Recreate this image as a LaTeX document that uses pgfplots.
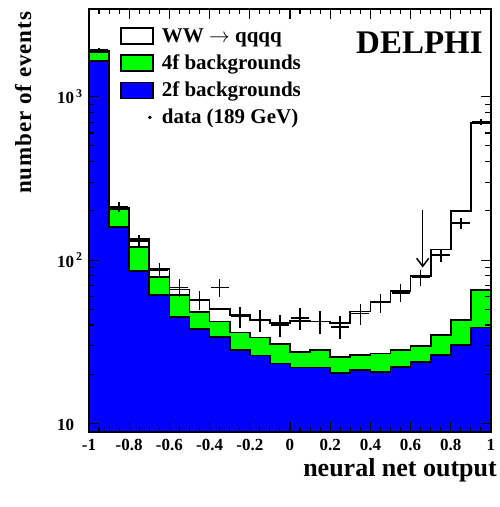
\documentclass[border=0pt]{standalone}
\usepackage{pgfplots}
\pgfplotsset{compat=1.18}
\usepackage{pgfplotstable}
\usepackage{fontspec}
\setmainfont{Liberation Serif}
\usetikzlibrary{arrows.meta}
\definecolor{hgreen}{RGB}{0,255,0}
\definecolor{hblue}{RGB}{0,0,255}

% left bin edge, 2f, 2f+4f, 2f+4f+WW
\pgfplotstableread{
x b g w
-1.0 1650 1890 1910
-0.9 160 205 209
-0.8 86 120 134
-0.7 61 79 88
-0.6 45 61 66
-0.5 38 48 57
-0.4 33.7 42 50
-0.3 28 36 46
-0.2 26 33.5 43
-0.1 23.3 30.5 41
0.0 22.0 27.4 42.5
0.1 22.0 28.1 42
0.2 20.4 25.4 41
0.3 21.2 26.2 48.5
0.4 20.7 26.8 55.5
0.5 22.2 28.1 64.5
0.6 23.8 29.7 80
0.7 26.2 34.7 116
0.8 30.2 43 200
0.9 38.7 65.5 690
1.0 38.7 65.5 690
}\hist

\pgfplotstableread{
x y ey
-0.95 1950 44
-0.85 212 14.6
-0.75 131 11.4
-0.65 87 9.3
-0.55 68 8.2
-0.45 57 7.5
-0.35 68 8.2
-0.25 45 6.7
-0.15 43 6.6
-0.05 40 6.3
0.05 44 6.6
0.15 42 6.5
0.25 39 6.2
0.35 47 6.9
0.45 55 7.4
0.55 63 7.9
0.65 78 8.8
0.75 107 10.3
0.85 168 13.0
0.95 700 26.5
}\data

\begin{document}
\begin{tikzpicture}
\useasboundingbox (-89pt,-75pt) rectangle (410pt,432pt);
\begin{axis}[
  at={(0pt,0pt)}, anchor=south west,
  width=402pt, height=423pt, scale only axis,
  xmin=-1, xmax=1, ymode=log, ymin=8.85, ymax=3450,
  axis on top,
  axis line style={line width=1.5pt},
  tick align=inside,
  tick style={line width=1.1pt, black},
  major tick length=10pt, minor tick length=5.5pt,
  xtick={-1,-0.8,-0.6,-0.4,-0.2,0,0.2,0.4,0.6,0.8,1},
  xticklabels={-1,-0.8,-0.6,-0.4,-0.2,0,0.2,0.4,0.6,0.8,1},
  minor x tick num=3,
  ytick={10,100,1000},
  yticklabels={10\phantom{\kern2pt\textsuperscript{2}}, 10\kern2pt\textsuperscript{2}, 10\kern2pt\textsuperscript{3}},
  ticklabel style={font=\fontsize{17}{20}\selectfont\bfseries},
  yticklabel style={xshift=-3pt},
  xticklabel style={yshift=-5pt, inner sep=2pt},
  ylabel={number of events},
  ylabel style={at={(axis description cs:-0.164,0.778)}, anchor=center, font=\fontsize{23}{26}\selectfont\bfseries\addfontfeature{LetterSpace=4}},
  xlabel={neural net output},
  xlabel style={at={(axis description cs:1.015,-0.062)}, anchor=north east, inner sep=0pt, font=\fontsize{26}{30}\selectfont\bfseries},
  legend style={at={(axis description cs:0.077,0.957)}, anchor=north west, draw=none, fill=none, inner sep=0pt, row sep=9pt,
    font=\fontsize{21}{23}\selectfont\bfseries, nodes={inner sep=1pt}},
  legend cell align=left,
]
\addplot[const plot, fill=white, draw=black, line width=1.7pt, forget plot] table[x=x, y=w] {\hist} \closedcycle;
\addplot[const plot, fill=hgreen, draw=black, line width=1.7pt, forget plot] table[x=x, y=g] {\hist} \closedcycle;
\addplot[const plot, fill=hblue, draw=black, line width=1.7pt, forget plot] table[x=x, y=b] {\hist} \closedcycle;

\addplot[draw=none, mark=none, forget plot,
  error bars/.cd, x dir=both, x fixed=0.045, y dir=both, y explicit, error mark=none,
  error bar style={draw=black, line width=1.6pt}]
  table[x=x, y=y, y error=ey] {\data};

\addplot[black, line width=1.4pt, forget plot, -{Straight Barb[length=8pt, width=12pt, line width=1.5pt]}] coordinates {(0.66,202) (0.66,90)};

\addlegendimage{legend image code/.code={\draw[fill=white, draw=black, line width=1.4pt] (0pt,-8pt) rectangle (32pt,8pt); \path[draw=none, fill=none] (0pt,0pt) -- (40pt,0pt);}}
\addlegendentry{WW $\rightarrow$ qqqq}
\addlegendimage{legend image code/.code={\draw[fill=hgreen, draw=black, line width=1.4pt] (0pt,-8pt) rectangle (32pt,8pt); \path[draw=none, fill=none] (0pt,0pt) -- (40pt,0pt);}}
\addlegendentry{4f backgrounds}
\addlegendimage{legend image code/.code={\draw[fill=hblue, draw=black, line width=1.4pt] (0pt,-8pt) rectangle (32pt,8pt); \path[draw=none, fill=none] (0pt,0pt) -- (40pt,0pt);}}
\addlegendentry{2f backgrounds}
\addlegendimage{legend image code/.code={\path[draw=none, fill=none] (0pt,-8pt) rectangle (40pt,8pt); \fill[black] (29pt,0pt) circle (1.6pt);}}
\addlegendentry{data (189 GeV)}

\node[anchor=north east, inner sep=0pt, font=\fontsize{33}{36}\selectfont\bfseries] at (axis description cs:0.980,0.9456) {DELPHI};
\node[inner sep=0pt, font=\fontsize{12}{14}\selectfont\bfseries] at (axis description cs:0.861,-0.158) {e};
\end{axis}
\end{tikzpicture}
\end{document}
